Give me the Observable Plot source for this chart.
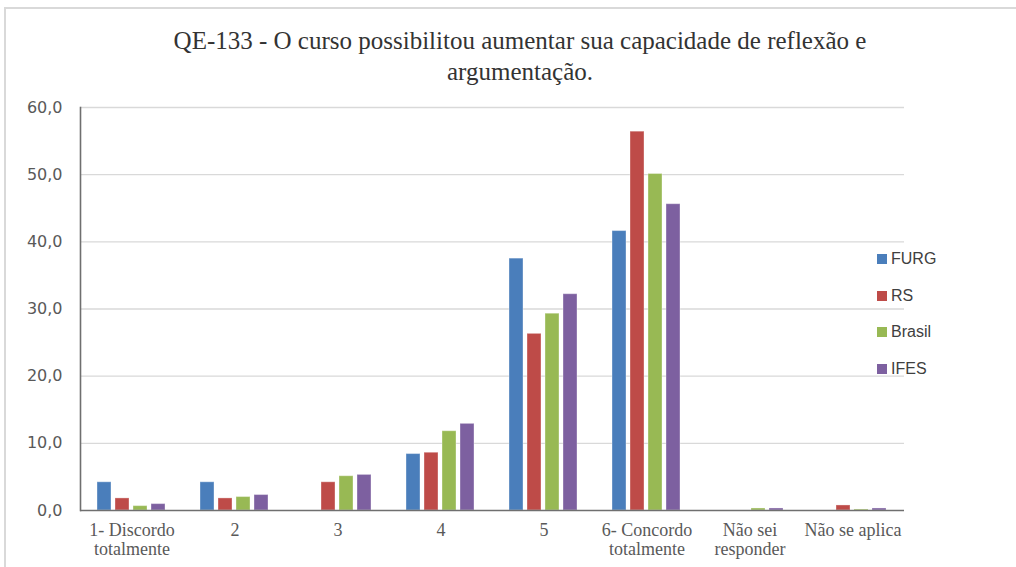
<!DOCTYPE html>
<html>
<head>
<meta charset="utf-8">
<script src="https://cdn.jsdelivr.net/npm/d3@7"></script>
<script src="https://cdn.jsdelivr.net/npm/@observablehq/plot@0.6"></script>
<style>
  html, body { margin: 0; padding: 0; background: #fff; }
  #wrap { position: relative; width: 1016px; height: 567px; overflow: hidden; }
  #border { position: absolute; left: 4px; top: 7px; width: 1100px; height: 600px; border: 2px solid #d9d9d9; box-sizing: border-box; }
  #title { position: absolute; left: 0; top: 25px; width: 1040px; text-align: center; font-family: "Liberation Serif", serif; font-size: 25px; line-height: 31px; color: #333; }
  #chart { position: absolute; left: 0; top: 0; }
  #legend { position: absolute; left: 877px; top: 250px; font-family: "Liberation Sans", sans-serif; font-size: 16px; color: #404040; }
  #legend .item { display: flex; align-items: center; height: 18px; margin-bottom: 18.5px; }
  #legend .sw { width: 10px; height: 10px; margin-right: 4px; }
</style>
</head>
<body>
<div id="wrap">
  <div id="border"></div>
  <div id="chart"></div>
  <div id="title">QE-133 - O curso possibilitou aumentar sua capacidade de reflexão e<br>argumentação.</div>
  <div id="legend"></div>
</div>
<script>
const categories = ["1- Discordo\ntotalmente", "2", "3", "4", "5", "6- Concordo\ntotalmente", "Não sei\nresponder", "Não se aplica"];
const series = ["FURG", "RS", "Brasil", "IFES"];
const colors = ["#4a7ebb", "#be4b48", "#98b954", "#7d60a0"];
const furg   = [4.2, 4.2, 0,   8.4, 37.5, 41.6, 0,   0];
const rs     = [1.8, 1.8, 4.2, 8.6, 26.3, 56.4, 0,   0.75];
const brasil = [0.65, 2.0, 5.1, 11.8, 29.3, 50.1, 0.3, 0.15];
const ifes   = [0.95, 2.3, 5.3, 12.9, 32.2, 45.6, 0.3, 0.3];
const yTicks = [0, 10, 20, 30, 40, 50, 60];

const values = [furg, rs, brasil, ifes];
const data = categories.flatMap((c, i) => series.map((s, j) => ({cat: c, series: s, value: values[j][i]})));
const fmt = d => d.toFixed(1).replace(".", ",");

const chart = Plot.plot({
  width: 1016,
  height: 567,
  marginTop: 107,
  marginBottom: 57,
  marginLeft: 78,
  marginRight: 110,
  style: {background: "transparent"},
  fx: {domain: categories, padding: 0},
  x: {domain: series, paddingInner: 0.2, paddingOuter: 0.95, axis: null},
  y: {domain: [0, 60]},
  color: {domain: series, range: colors},
  marks: [
    Plot.gridY(yTicks.filter(d => d > 0), {stroke: "#d9d9d9", strokeOpacity: 1, strokeWidth: 1.3}),
    Plot.barY(data, {fx: "cat", x: "series", y: "value", fill: "series", stroke: "#ffffff", strokeOpacity: 0.35, strokeWidth: 1}),
    Plot.ruleY([0], {stroke: "#6f6f6f", strokeWidth: 1.6}),
    Plot.frame({anchor: "left", facetAnchor: "left", stroke: "#6f6f6f", strokeWidth: 1.6}),
    Plot.axisY(yTicks, {tickSize: 0, tickPadding: 18, tickFormat: fmt, label: null, fontSize: 16, fontFamily: "DejaVu Sans, sans-serif", fill: "#595959"}),
    Plot.axisFx({anchor: "bottom", tickSize: 0, tickPadding: 12, label: null, fontSize: 18, lineHeight: 1.05, fontFamily: "Liberation Serif, serif", fill: "#595959"})
  ]
});
document.getElementById("chart").appendChild(chart);

const legend = document.getElementById("legend");
series.forEach((s, i) => {
  const item = document.createElement("div");
  item.className = "item";
  const sw = document.createElement("span");
  sw.className = "sw";
  sw.style.background = chart.scale("color").apply(s);
  const t = document.createElement("span");
  t.textContent = s;
  item.appendChild(sw);
  item.appendChild(t);
  legend.appendChild(item);
});
</script>
</body>
</html>
